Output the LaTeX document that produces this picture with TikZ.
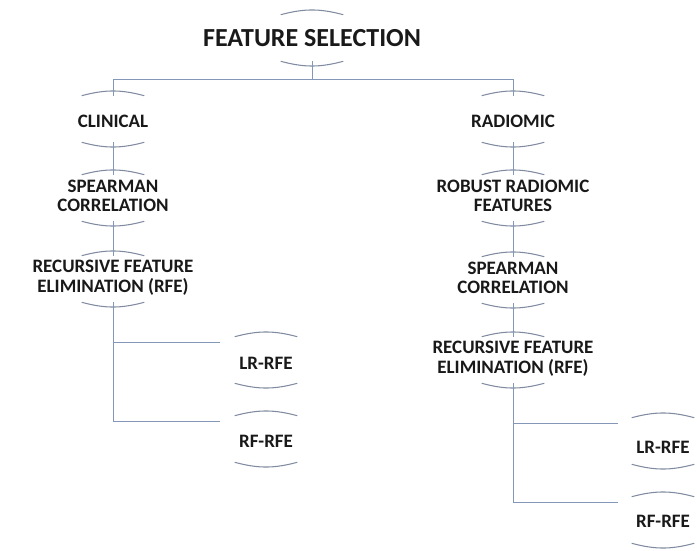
\documentclass[tikz,border=0pt]{standalone}
\usepackage{fontspec}
\setmainfont{Carlito}

\definecolor{arcgray}{RGB}{128,138,160}
\definecolor{linkblue}{RGB}{132,151,184}
\definecolor{txtgray}{RGB}{25,25,25}

% text may run wider than the bracket, so it gets no width of its own
\newcommand{\boxtxt}[2][0cm]{\makebox[0pt]{\raisebox{-#1}[\height][\depth]{\begin{tabular}{@{}c@{}}#2\end{tabular}}}}

\tikzset{
  stage/.style={minimum width=1.55cm, minimum height=1.15cm, inner sep=0pt,
    font=\fontsize{13.5}{14}\selectfont\bfseries, text=txtgray},
  arcline/.style={line width=0.75, color=arcgray},
  link/.style={line width=0.7, color=linkblue}
}

\begin{document}
\begin{tikzpicture}[x=0.025cm, y=-0.025cm]
\useasboundingbox (0,0) rectangle (697,551);

\node[stage, font=\fontsize{18.5}{20}\selectfont\bfseries] (fs) at (312,38) {\boxtxt[0.08cm]{FEATURE SELECTION}};

% clinical branch
\node[stage] (cli) at (113,119) {\boxtxt[0.12cm]{CLINICAL}};
\node[stage] (spl) at (113,198) {\boxtxt{SPEARMAN\\CORRELATION}};
\node[stage] (rfel) at (113,279) {\boxtxt{RECURSIVE FEATURE\\ELIMINATION (RFE)}};
\node[stage] (lrl) at (266,360) {\boxtxt[0.15cm]{LR-RFE}};
\node[stage] (rfl) at (266,439) {\boxtxt[0.12cm]{RF-RFE}};

% radiomic branch
\node[stage] (rad) at (513,119) {\boxtxt[0.12cm]{RADIOMIC}};
\node[stage] (rob) at (513,198) {\boxtxt{ROBUST RADIOMIC\\FEATURES}};
\node[stage] (spr) at (513,280) {\boxtxt{SPEARMAN\\CORRELATION}};
\node[stage] (rfer) at (513,360) {\boxtxt{RECURSIVE FEATURE\\ELIMINATION (RFE)}};
\node[stage] (lrr) at (663,441) {\boxtxt[0.22cm]{LR-RFE}};
\node[stage] (rfr) at (663,520) {\boxtxt[0.08cm]{RF-RFE}};

% brackets above and below each box
\foreach \n in {fs,cli,spl,rfel,lrl,rfl,rad,rob,spr,rfer,lrr,rfr} {
  \draw[arcline] (\n.north west) to[bend left=15] (\n.north east);
  \draw[arcline] (\n.south west) to[bend right=15] (\n.south east);
}

\draw[link] (fs.south) -- ++(0,18) coordinate (fork);
\draw[link] (fork) -| (cli.north);
\draw[link] (fork) -| (rad.north);

\draw[link] (cli.south) -- (spl.north);
\draw[link] (spl.south) -- (rfel.north);
\draw[link, shorten >=0.375cm] (rfel.south) |- (lrl.151);
\draw[link, shorten >=0.375cm] (rfel.south) |- (rfl.151);

\draw[link] (rad.south) -- (rob.north);
\draw[link] (rob.south) -- (spr.north);
\draw[link] (spr.south) -- (rfer.north);
\draw[link, shorten >=0.35cm] (rfer.south) |- (lrr.151);
\draw[link, shorten >=0.35cm] (rfer.south) |- (rfr.151);
\end{tikzpicture}
\end{document}
